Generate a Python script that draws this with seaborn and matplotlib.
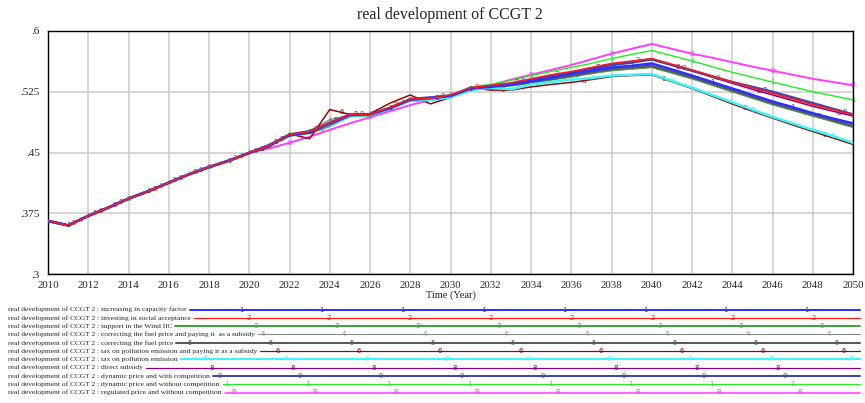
import numpy as np
import pandas as pd
import matplotlib
matplotlib.use("Agg")
import matplotlib.pyplot as plt
from matplotlib.lines import Line2D
import seaborn as sns

# ---------------- data ----------------
years = list(range(2010, 2051))
base_2010_2020 = [0.3655, 0.360, 0.3717, 0.382, 0.393, 0.4024, 0.4127, 0.423, 0.432, 0.440, 0.4495]

labels = [
    "real development of CCGT 2 : increasing in capacity factor",
    "real development of CCGT 2 : investing in social acceptance",
    "real development of CCGT 2 : support in the Wind IIC",
    "real development of CCGT 2 : correcting the fuel price and paying it  as a subsidy",
    "real development of CCGT 2 : correcting the fuel price",
    "real development of CCGT 2 : tax on pollution emission and paying it as a subsidy",
    "real development of CCGT 2 : tax on pollution emission",
    "real development of CCGT 2 : direct subsidy",
    "real development of CCGT 2 : dynamic price and with competition",
    "real development of CCGT 2 : dynamic price and without competition",
    "real development of CCGT 2 : regulated price and without competition",
]
marker_chars = ["1", "2", "3", "4", "5", "6", "7", "8", "9", "1", "B"]

s1 = base_2010_2020 + [0.459, 0.471, 0.475, 0.485, 0.496, 0.497, 0.505, 0.515, 0.517, 0.520,
                       0.529, 0.531, 0.534, 0.538, 0.542, 0.547, 0.551, 0.555, 0.557, 0.560,
                       0.5525, 0.545, 0.537, 0.529, 0.521, 0.513, 0.506, 0.4985, 0.492, 0.486]
s2 = base_2010_2020 + [0.459, 0.472, 0.476, 0.486, 0.497, 0.497, 0.506, 0.516, 0.517, 0.521,
                       0.530, 0.533, 0.536, 0.541, 0.546, 0.550, 0.555, 0.560, 0.563, 0.566,
                       0.559, 0.552, 0.5445, 0.537, 0.530, 0.523, 0.516, 0.509, 0.503, 0.497]
s3 = base_2010_2020 + [0.458, 0.471, 0.474, 0.483, 0.495, 0.496, 0.504, 0.515, 0.516, 0.520,
                       0.528, 0.530, 0.533, 0.536, 0.540, 0.544, 0.548, 0.552, 0.554, 0.556,
                       0.549, 0.542, 0.534, 0.526, 0.518, 0.510, 0.503, 0.496, 0.489, 0.482]
s4 = base_2010_2020 + [0.459, 0.473, 0.477, 0.4905, 0.496, 0.496, 0.504, 0.515, 0.516, 0.520,
                       0.528, 0.530, 0.533, 0.536, 0.540, 0.544, 0.548, 0.551, 0.553, 0.555,
                       0.548, 0.541, 0.533, 0.525, 0.517, 0.509, 0.502, 0.495, 0.488, 0.481]
s5 = base_2010_2020 + [0.459, 0.472, 0.475, 0.487, 0.496, 0.496, 0.504, 0.515, 0.515, 0.519,
                       0.528, 0.530, 0.533, 0.537, 0.541, 0.545, 0.549, 0.553, 0.555, 0.557,
                       0.550, 0.543, 0.535, 0.527, 0.519, 0.511, 0.504, 0.497, 0.490, 0.483]
s6 = base_2010_2020 + [0.457, 0.473, 0.467, 0.503, 0.497, 0.498, 0.511, 0.521, 0.510, 0.518,
                       0.530, 0.527, 0.527, 0.531, 0.534, 0.5365, 0.540, 0.5438, 0.545, 0.546,
                       0.5375, 0.529, 0.5195, 0.510, 0.501, 0.4925, 0.484, 0.476, 0.468, 0.460]
s7 = base_2010_2020 + [0.459, 0.471, 0.476, 0.484, 0.495, 0.496, 0.504, 0.514, 0.515, 0.518,
                       0.527, 0.530, 0.528, 0.534, 0.537, 0.540, 0.542, 0.545, 0.546, 0.547,
                       0.5385, 0.530, 0.521, 0.512, 0.503, 0.494, 0.486, 0.478, 0.4705, 0.462]
s8 = base_2010_2020 + [0.459, 0.472, 0.476, 0.486, 0.497, 0.497, 0.505, 0.516, 0.517, 0.520,
                       0.530, 0.532, 0.535, 0.540, 0.545, 0.549, 0.554, 0.559, 0.562, 0.565,
                       0.558, 0.551, 0.543, 0.5355, 0.528, 0.521, 0.514, 0.507, 0.501, 0.495]
s9 = base_2010_2020 + [0.459, 0.472, 0.476, 0.486, 0.497, 0.497, 0.505, 0.516, 0.518, 0.520,
                       0.529, 0.532, 0.535, 0.540, 0.544, 0.548, 0.553, 0.558, 0.561, 0.565,
                       0.558, 0.551, 0.544, 0.537, 0.531, 0.525, 0.518, 0.511, 0.504, 0.497]
s10 = base_2010_2020 + [0.459, 0.471, 0.475, 0.485, 0.496, 0.497, 0.506, 0.516, 0.518, 0.521,
                        0.531, 0.534, 0.539, 0.545, 0.550, 0.555, 0.560, 0.566, 0.571, 0.576,
                        0.5695, 0.563, 0.556, 0.549, 0.543, 0.537, 0.531, 0.525, 0.520, 0.515]
s11 = base_2010_2020 + [0.455, 0.462, 0.4695, 0.478, 0.486, 0.4935, 0.501, 0.5085, 0.515, 0.521,
                        0.527, 0.533, 0.540, 0.546, 0.552, 0.558, 0.565, 0.572, 0.578, 0.584,
                        0.578, 0.572, 0.567, 0.5615, 0.556, 0.551, 0.546, 0.541, 0.537, 0.533]
series = [s1, s2, s3, s4, s5, s6, s7, s8, s9, s10, s11]
marker_start = [2011, 2011.3, 2011.6, 2012, 2012.3, 2012.6, 2013, 2013.3, 2013.6, 2014, 2014]

y_ticks = [0.3, 0.375, 0.45, 0.525, 0.6]
y_ticklabels = [".3", ".375", ".45", ".525", ".6"]
x_ticks = list(range(2010, 2051, 2))

# ---------------- style ----------------
colors = ["#2f2fff", "#ff1a1a", "#3fa53f", "#8a8a8a", "#5a5a5a", "#8b0a0a",
          "#3ff5f5", "#880088", "#4646a8", "#22ee22", "#ff3cff"]
widths = [1.8, 1.1, 1.8, 1.0, 1.8, 1.1, 1.8, 1.1, 1.8, 1.0, 1.4]
zorders = [9, 10, 4, 3, 5, 6, 7, 8, 8.5, 2, 1]

sns.set_style("white")
serif = ["Liberation Serif", "DejaVu Serif"]
plt.rcParams["font.family"] = serif

W, H = 865, 403
fig = plt.figure(figsize=(W / 100, H / 100), dpi=100)
ax_l, ax_r, ax_t, ax_b = 48, 853, 31, 274
ax = fig.add_axes([ax_l / W, 1 - ax_b / H, (ax_r - ax_l) / W, (ax_b - ax_t) / H])

df = pd.DataFrame({"year": years * len(series),
                   "value": np.concatenate(series),
                   "scenario": np.repeat(labels, len(years))})

for i, (lab, vals) in enumerate(zip(labels, series)):
    sub = df[df["scenario"] == lab]
    sns.lineplot(data=sub, x="year", y="value", color=colors[i], lw=widths[i],
                 ax=ax, legend=False, zorder=zorders[i])
    yrs = np.arange(marker_start[i], 2050.5, 4)
    for yv in yrs:
        ax.text(yv, np.interp(yv, years, vals), marker_chars[i], color=colors[i],
                fontsize=5, ha="center", va="center", family="DejaVu Sans",
                zorder=zorders[i] + 0.1)

ax.set_xlim(2010, 2050)
ax.set_ylim(0.3, 0.6)
ax.set_xticks(x_ticks)
ax.set_yticks(y_ticks)
ax.set_yticklabels(y_ticklabels)
ax.grid(True, color="#cccccc", lw=1.1)
ax.set_axisbelow(True)
ax.tick_params(axis="both", length=0, labelsize=8, pad=6)
ax.tick_params(axis="x", labelsize=7.8, pad=5)
ax.set_xlabel("Time (Year)", fontsize=7.5, labelpad=0)
ax.set_ylabel("")
for sp in ax.spines.values():
    sp.set_color("black")
    sp.set_linewidth(1.0)

fig.text(0.52, 1 - 15 / H, "real development of CCGT 2", ha="center", va="center",
         fontsize=11.5)

# ---------------- legend (Vensim style) ----------------
fig.canvas.draw()
renderer = fig.canvas.get_renderer()
leg_y = [309.5, 317.8, 326.1, 334.4, 342.7, 351.0, 359.3, 367.6, 375.9, 384.2, 392.5]
for i, lab in enumerate(labels):
    t = fig.text(8 / W, 1 - leg_y[i] / H, lab, fontsize=5.4, va="center", ha="left")
    bb = t.get_window_extent(renderer)
    x0 = bb.x1 + 3
    x1 = 860
    fy = 1 - leg_y[i] / H
    fig.add_artist(Line2D([x0 / W, x1 / W], [fy, fy], color=colors[i],
                          lw=widths[i] * 0.8, transform=fig.transFigure))
    k = 0
    while True:
        mx = 241 + 7.4 * i + 80.8 * (k - 2)
        k += 1
        if mx > x1 - 2:
            break
        if mx < x0 + 3:
            continue
        fig.text(mx / W, fy, marker_chars[i], color=colors[i], fontsize=5,
                 ha="center", va="center", family="DejaVu Sans")

fig.savefig("out.png", dpi=100)
